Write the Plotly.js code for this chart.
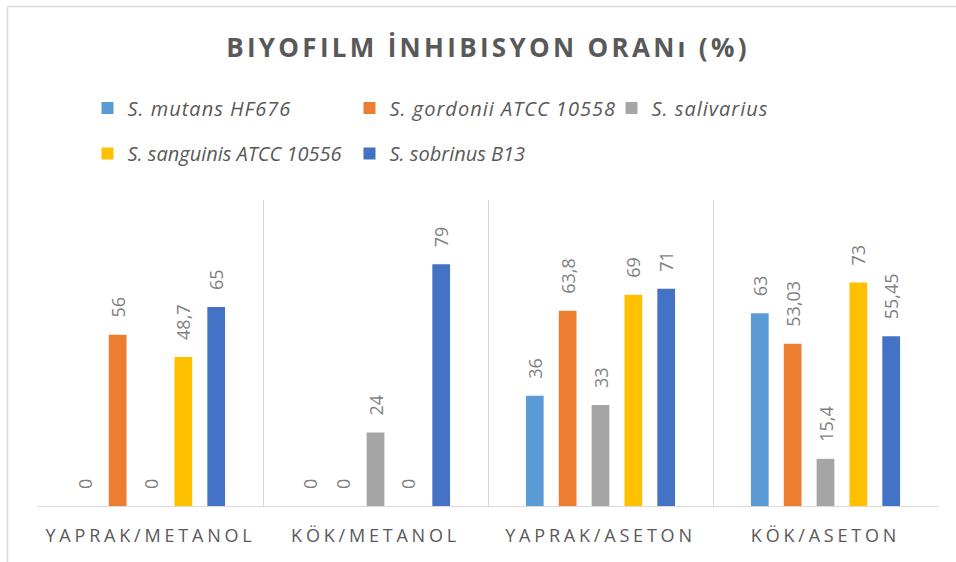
<!DOCTYPE html>
<html>
<head>
<meta charset="utf-8">
<script src="https://cdn.plot.ly/plotly-3.0.1.min.js"></script>
<style>
  html, body { margin: 0; padding: 0; background: #fff; }
  #chart { width: 956px; height: 562px; }
  .gtitle { letter-spacing: 3.3px; }
  .xtick text { letter-spacing: 3.8px; }
  .legendtext { letter-spacing: 1px; }
</style>
</head>
<body>
<div id="chart"></div>
<script>
const categories = ['YAPRAK/METANOL', 'KÖK/METANOL', 'YAPRAK/ASETON', 'KÖK/ASETON'];
const seriesNames = ['S. mutans HF676', 'S. gordonii ATCC 10558', 'S. salivarius', 'S. sanguinis ATCC 10556', 'S. sobrinus B13'];
const mutans = [0, 0, 36, 63];
const gordonii = [56, 0, 63.8, 53.03];
const salivarius = [0, 24, 33, 15.4];
const sanguinis = [48.7, 0, 69, 73];
const sobrinus = [65, 79, 71, 55.45];
const colors = ['#5B9BD5', '#ED7D31', '#A5A5A5', '#FFC000', '#4472C4'];

const seriesValues = [mutans, gordonii, salivarius, sanguinis, sobrinus];
const fmt = v => '\u00a0\u00a0\u00a0' + String(v).replace('.', ',');

const traces = seriesValues.map((vals, i) => ({
  type: 'bar',
  name: seriesNames[i],
  x: categories,
  y: vals,
  text: vals.map(fmt),
  textposition: 'outside',
  textangle: -90,
  constraintext: 'none',
  cliponaxis: false,
  textfont: { family: 'Open Sans', size: 18, color: '#7F7F7F' },
  marker: { color: colors[i] },
  legend: i < 3 ? 'legend' : 'legend2',
  hoverinfo: 'skip'
}));

const legendFont = { family: 'Open Sans', size: 20, color: '#595959', style: 'italic' };

const layout = {
  width: 956,
  height: 562,
  margin: { l: 38, r: 18, t: 200, b: 56 },
  paper_bgcolor: '#ffffff',
  plot_bgcolor: '#ffffff',
  barmode: 'group',
  bargap: 0.27,
  bargroupgap: 0.46,
  title: {
    text: 'BIYOFILM İNHIBISYON ORANı (%)',
    font: { family: 'Open Sans', size: 26, color: '#595959', weight: 700 },
    xref: 'paper', x: 0.5, xanchor: 'center',
    yref: 'container', y: 1 - 48 / 562, yanchor: 'middle'
  },
  showlegend: true,
  legend: {
    orientation: 'h', x: 0.055, xanchor: 'left', y: (506 - 108) / 306, yanchor: 'middle',
    font: legendFont, entrywidth: 217, entrywidthmode: 'pixels',
    bgcolor: 'rgba(0,0,0,0)'
  },
  legend2: {
    orientation: 'h', x: 0.055, xanchor: 'left', y: (506 - 153.5) / 306, yanchor: 'middle',
    font: legendFont, entrywidth: 217, entrywidthmode: 'pixels',
    bgcolor: 'rgba(0,0,0,0)'
  },
  xaxis: {
    type: 'category',
    tickson: 'boundaries',
    showgrid: true,
    gridcolor: '#D9D9D9',
    gridwidth: 1,
    showline: true,
    linecolor: '#D9D9D9',
    linewidth: 1,
    ticks: '',
    ticklabelstandoff: 13,
    tickfont: { family: 'Open Sans', size: 18, color: '#595959' },
    fixedrange: true
  },
  yaxis: {
    range: [0, 100],
    showgrid: false,
    zeroline: false,
    showticklabels: false,
    ticks: '',
    showline: false,
    fixedrange: true
  },
  shapes: [
    { type: 'line', xref: 'paper', yref: 'paper', x0: (7.5 - 38) / 900, x1: (7.5 - 38) / 900, y0: (506 - 6.5) / 306, y1: (506 - 570) / 306, line: { color: '#D9D9D9', width: 1.5 } },
    { type: 'line', xref: 'paper', yref: 'paper', x0: (7.5 - 38) / 900, x1: (960 - 38) / 900, y0: (506 - 6.5) / 306, y1: (506 - 6.5) / 306, line: { color: '#D9D9D9', width: 1.5 } }
  ]
};

Plotly.newPlot('chart', traces, layout, { displayModeBar: false, staticPlot: true });
</script>
</body>
</html>
